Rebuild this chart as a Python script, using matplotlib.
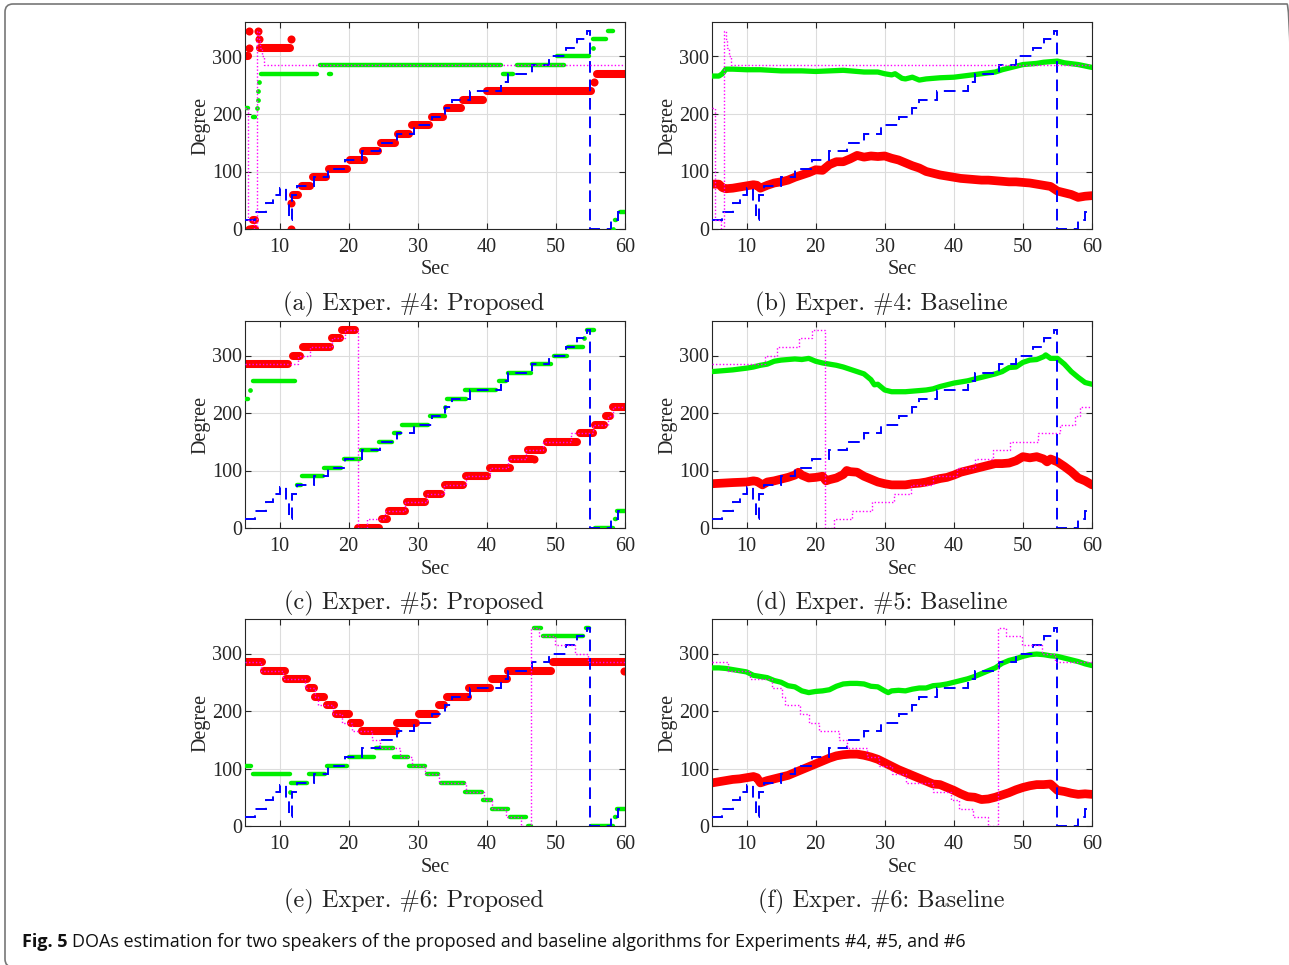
import matplotlib
import matplotlib.pyplot as plt
from matplotlib.patches import FancyBboxPatch
from matplotlib.transforms import IdentityTransform

plt.rcParams['font.family'] = ['Liberation Serif', 'DejaVu Serif']

# ground truth, speaker 1 (same in all experiments)
gt1_edges = [5, 6.5, 8, 9, 10, 11, 11.4, 11.8, 12.5, 15, 17, 19.5, 22, 24.5, 27, 29.5, 32, 34, 35,
             37.5, 42, 43, 46.5, 49, 51.5, 53, 54.5, 55, 58, 59, 60]
gt1_vals = [15, 30, 45, 60, 72, 45, 15, 60, 75, 90, 105, 120, 135, 150, 165, 180, 195, 210, 225,
            240, 255, 270, 285, 300, 315, 330, 345, 0, 15, 30]

# ground truth, speaker 2
gt2_edges_4 = [5, 5.5, 6.3, 6.7, 7.0, 7.2, 7.4, 7.7, 60]
gt2_vals_4 = [210, 15, 0, 345, 330, 315, 300, 285]
gt2_edges_5 = [5, 12.7, 14.4, 17.6, 19.5, 21.3, 22.6, 25.3, 28.2, 31.4, 33.8, 37, 40.4, 43, 45.7,
               48.1, 52.2, 55.4, 57.6, 58.3, 60]
gt2_vals_5 = [285, 300, 315, 330, 345, 0, 15, 30, 45, 60, 75, 90, 105, 120, 135, 150, 165, 180,
              195, 210]
gt2_edges_6 = [5, 7.3, 10.5, 13.7, 15.1, 15.6, 17.8, 19, 20.5, 23.4, 24.6, 27.5, 29.2, 31.1, 33.1,
               37, 39.6, 40.8, 42.8, 45, 46.4, 47.6, 49.8, 52.7, 54.6, 60]
gt2_vals_6 = [285, 270, 255, 240, 225, 210, 195, 180, 165, 150, 135, 120, 105, 90, 75, 60, 45, 30,
              15, 0, 345, 330, 315, 300, 285]

# proposed: segments (start, end, value) and single points
a_red_t0 = [5.2, 6.0, 6.1, 7.2, 12.0, 13.2, 14.8, 17.1, 20.2, 22.1, 24.7, 27.1, 29.1, 32.0, 34.2, 36.6, 40.0, 55.9]
a_red_t1 = [5.5, 6.5, 6.4, 11.5, 12.7, 14.4, 16.7, 19.8, 22.2, 24.3, 26.7, 28.8, 31.6, 33.7, 36.2, 39.4, 55.1, 60.0]
a_red_v = [300, 0, 15, 315, 60, 75, 90, 105, 120, 135, 150, 165, 180, 195, 210, 225, 240, 270]
a_red_px = [5.6, 5.6, 5.6, 6.9, 7.0, 11.6, 11.6, 11.6, 55.5]
a_red_py = [345, 315, 0, 345, 330, 330, 45, 0, 255]
a_grn_t0 = [5.1, 6.1, 7.3, 17.1, 15.9, 42.4, 44.4, 50.1, 55.4, 57.6, 58.6, 59.3]
a_grn_t1 = [5.5, 6.5, 15.4, 17.4, 42.1, 43.8, 51.2, 54.8, 57.3, 58.2, 58.7, 60.0]
a_grn_v = [210, 195, 270, 270, 285, 270, 285, 300, 330, 345, 15, 30]
a_grn_px = [6.8, 6.9, 6.95, 7.0, 55.3, 58.3]
a_grn_py = [210, 225, 240, 255, 315, 0]

c_red_t0 = [5.2, 11.9, 13.4, 17.6, 19.1, 21.4, 24.8, 25.9, 28.5, 31.3, 33.9, 37.0, 40.5, 43.6, 45.9,
            48.7, 53.5, 55.6, 57.3, 58.3]
c_red_t1 = [11.2, 12.9, 17.3, 18.7, 20.9, 24.4, 25.5, 28.1, 31.0, 33.4, 36.6, 40.0, 43.3, 46.5, 48.1,
            53.0, 55.3, 57.0, 57.8, 60.0]
c_red_v = [285, 300, 315, 330, 345, 0, 15, 30, 45, 60, 75, 90, 105, 120, 135, 150, 165, 180, 195, 210]
c_red_px = [46.8]
c_red_py = [120]
c_grn_t0 = [5.1, 6.2, 12.5, 13.3, 16.5, 19.3, 21.8, 24.4, 26.5, 27.7, 31.8, 34.2, 36.9, 41.7, 43.0,
            46.5, 49.7, 51.7, 54.5, 55.7, 58.5, 58.9]
c_grn_t1 = [5.4, 12.2, 13.1, 16.3, 18.9, 21.6, 24.1, 26.3, 27.4, 31.5, 33.9, 37.0, 41.3, 42.8, 46.4,
            49.3, 51.6, 53.9, 55.5, 58.2, 58.7, 60.0]
c_grn_v = [225, 255, 75, 90, 105, 120, 135, 150, 165, 180, 195, 225, 240, 255, 270, 285, 300, 315,
           345, 0, 15, 30]
c_grn_px = [5.7, 33.9, 54.0]
c_grn_py = [240, 210, 330]

e_red_t0 = [5.2, 7.7, 11.0, 14.3, 15.2, 16.9, 18.2, 20.4, 22.0, 27.0, 30.2, 33.1, 34.2, 37.4, 40.8,
            43.1, 49.6]
e_red_t1 = [7.4, 10.8, 14.0, 15.0, 16.5, 17.9, 20.0, 21.7, 26.8, 29.8, 32.6, 33.8, 37.3, 40.5, 42.9,
            49.3, 60.0]
e_red_v = [285, 270, 255, 240, 225, 210, 195, 180, 165, 180, 195, 210, 225, 240, 255, 270, 285]
e_red_px = [59.8]
e_red_py = [270]
e_grn_t0 = [5.1, 6.1, 11.7, 14.3, 16.9, 20.1, 24.0, 26.6, 28.7, 31.3, 33.3, 36.8, 39.5, 40.7, 43.3,
            45.9, 46.8, 48.2, 54.3, 55.1, 58.5, 58.9]
e_grn_t1 = [5.9, 11.45, 14.0, 16.6, 19.7, 23.6, 26.4, 28.6, 31.1, 33.0, 36.7, 39.3, 40.6, 43.0, 45.6,
            46.4, 47.9, 53.9, 54.8, 58.2, 58.7, 60.0]
e_grn_v = [105, 90, 75, 90, 105, 120, 135, 120, 105, 90, 75, 60, 45, 30, 15, 0, 345, 330, 345, 0, 15, 30]
e_grn_px = [11.5]
e_grn_py = [60]

# baseline: smooth estimates
b_grn_t = [5, 6, 6.5, 7, 8, 10, 12, 15, 18, 20, 22, 24, 25, 27, 29, 30, 31, 31.5, 32.5, 33, 34, 35,
           36, 37, 38, 40, 42, 44, 46, 47, 48, 49, 50, 51, 52, 53, 54, 55, 56, 58, 60]
b_grn_v = [266, 266, 270, 278, 278, 277, 277, 275, 275, 274, 275, 276, 275, 273, 273, 270, 268, 270,
           262, 261, 264, 259, 261, 262, 263, 264, 267, 270, 273, 277, 280, 283, 286, 287, 288, 290,
           291, 292, 289, 286, 281]
b_red_t = [5, 6, 6.5, 7, 8, 9, 10, 11, 11.5, 12, 13, 14, 15, 16, 17, 18, 19, 20, 21, 22, 23, 24, 25,
           26, 27, 28, 29, 30, 31, 32, 33, 34, 35, 36, 37, 38, 39, 40, 41, 42, 43, 44, 45, 46, 47,
           48, 49, 50, 51, 52, 53, 54, 55, 56, 57, 58, 59, 60]
b_red_v = [78, 78, 72, 70, 71, 73, 75, 77, 76, 71, 76, 80, 82, 85, 90, 94, 98, 103, 102, 112, 117,
           117, 122, 128, 125, 127, 126, 127, 123, 120, 115, 110, 106, 100, 97, 94, 92, 90, 88, 87,
           86, 85, 85, 84, 83, 82, 82, 81, 80, 78, 76, 74, 66, 63, 60, 55, 57, 58]

d_grn_t = [5, 8, 10, 11, 12, 13, 14, 15, 16, 17, 18, 19, 20, 21, 22, 23, 24, 25, 26, 27, 28, 28.5,
           29, 30, 31, 32, 33, 34, 35, 36, 37, 38, 40, 42, 44, 46, 47, 48, 49, 50, 51, 52, 53, 53.3,
           54, 55, 56, 57, 58, 59, 60]
d_grn_v = [272, 275, 278, 280, 283, 285, 290, 292, 293, 294, 293, 295, 290, 287, 285, 283, 280, 276,
           272, 268, 258, 249, 250, 240, 237, 237, 237, 238, 239, 240, 242, 246, 252, 256, 262, 268,
           272, 279, 280, 288, 292, 293, 298, 301, 295, 295, 285, 272, 262, 253, 250]
d_red_t = [5, 8, 10, 11, 11.5, 12.3, 13, 14, 15, 16, 17, 17.5, 18, 19, 20, 21, 21.5, 22, 23, 24,
           24.5, 25, 26, 27, 28, 29, 30, 31, 32, 33, 34, 35, 36, 37, 38, 39, 40, 41, 42, 43, 44, 45,
           46, 47, 48, 49, 50, 51, 52, 53, 53.5, 54, 55, 56, 57, 58, 59, 60]
d_red_v = [77, 79, 80, 82, 81, 75, 80, 82, 85, 88, 92, 97, 92, 87, 88, 90, 82, 84, 87, 93, 100, 98,
           97, 90, 85, 80, 77, 75, 75, 75, 77, 78, 80, 83, 86, 88, 92, 97, 100, 103, 106, 109, 112,
           112, 113, 117, 124, 122, 124, 120, 115, 120, 115, 107, 98, 87, 82, 75]

f_grn_t = [5, 6, 7, 8, 9, 10, 11, 12, 13, 14, 15, 16, 17, 18, 19, 20, 21, 22, 23, 24, 25, 26, 27,
           28, 29, 30, 30.5, 31, 32, 33, 34, 35, 36, 37, 38, 39, 40, 41, 42, 43, 44, 45, 46, 47, 48,
           49, 50, 51, 52, 53, 54, 55, 56, 57, 58, 59, 60]
f_grn_v = [275, 275, 274, 272, 270, 268, 262, 260, 258, 253, 250, 244, 242, 235, 232, 234, 235, 237,
           243, 247, 248, 248, 247, 243, 242, 235, 232, 235, 236, 235, 238, 240, 240, 244, 245, 247,
           250, 253, 256, 260, 265, 270, 275, 283, 288, 291, 295, 298, 299, 298, 296, 295, 292, 289,
           286, 282, 279]
f_red_t = [5, 6, 7, 8, 9, 10, 11, 11.5, 12, 13, 14, 15, 16, 17, 18, 19, 20, 21, 22, 23, 24, 25, 26,
           27, 28, 29, 30, 31, 32, 33, 34, 35, 36, 37, 38, 39, 40, 41, 42, 43, 44, 45, 46, 47, 48,
           49, 50, 51, 52, 53, 54, 55, 56, 57, 58, 59, 60]
f_red_v = [75, 77, 79, 81, 82, 84, 86, 84, 75, 79, 82, 85, 88, 93, 98, 103, 108, 113, 118, 122, 124,
           125, 125, 123, 120, 116, 110, 104, 98, 93, 88, 83, 78, 73, 72, 67, 62, 56, 51, 50, 46, 47,
           50, 54, 58, 63, 67, 70, 72, 72, 73, 62, 60, 57, 55, 56, 55]

captions = ['(a) Exper. #4: Proposed', '(b) Exper. #4: Baseline',
            '(c) Exper. #5: Proposed', '(d) Exper. #5: Baseline',
            '(e) Exper. #6: Proposed', '(f) Exper. #6: Baseline']

W, H = 1289, 965
fig = plt.figure(figsize=(W / 100, H / 100), dpi=100)

axcol = '#262626'


def make_axes(left, top):
    ax = fig.add_axes([left / W, 1 - (top + 207) / H, 380 / W, 207 / H])
    ax.set_xlim(5, 60)
    ax.set_ylim(0, 360)
    ax.set_xticks([10, 20, 30, 40, 50, 60])
    ax.set_yticks([0, 100, 200, 300])
    ax.grid(True, color='#dcdcdc', lw=0.8)
    ax.set_axisbelow(True)
    ax.tick_params(direction='in', top=True, right=True, length=4, width=0.8,
                   labelsize=14.5, colors=axcol)
    ax.tick_params(axis='y', pad=2)
    ax.tick_params(axis='x', pad=6.5)
    for s in ax.spines.values():
        s.set_color(axcol)
        s.set_linewidth(0.8)
    ax.set_xlabel('Sec', fontsize=14.5, labelpad=2.5, color=axcol)
    ax.set_ylabel('Degree', fontsize=14.5, labelpad=1, color=axcol)
    return ax


def draw_gt(ax, edges2, vals2):
    ax.stairs(gt1_vals, gt1_edges, baseline=None, color='#0000ff', lw=1.4,
              linestyle=(0, (6, 3.5)), zorder=4)
    ax.stairs(vals2, edges2, baseline=None, color='#ff00ff', lw=1.0,
              linestyle=(0, (1, 1.5)), zorder=5)


def draw_proposed(ax, rt0, rt1, rv, rpx, rpy, gt0, gt1, gv, gpx, gpy):
    for a, b, y in zip(rt0, rt1, rv):
        ax.plot([a, b], [y, y], color='#ff0000', lw=5.8, solid_capstyle='round', zorder=2)
    ax.plot(rpx, rpy, 'o', color='#ff0000', ms=5.8, mec='none', zorder=2)
    for a, b, y in zip(gt0, gt1, gv):
        ax.plot([a, b], [y, y], color='#00ee00', lw=3.2, solid_capstyle='round', zorder=3)
    ax.plot(gpx, gpy, 'o', color='#00ee00', ms=3.4, mec='none', zorder=3)


def draw_baseline(ax, rt, rv, gt, gv):
    ax.plot(rt, rv, color='#ff0000', lw=6.3, solid_capstyle='round', zorder=2)
    ax.plot(gt, gv, color='#00ee00', lw=3.8, solid_capstyle='round', zorder=3)


tops = [22, 321, 619]
lefts = [245, 712]

ax = make_axes(lefts[0], tops[0])
draw_proposed(ax, a_red_t0, a_red_t1, a_red_v, a_red_px, a_red_py,
              a_grn_t0, a_grn_t1, a_grn_v, a_grn_px, a_grn_py)
draw_gt(ax, gt2_edges_4, gt2_vals_4)

ax = make_axes(lefts[1], tops[0])
draw_baseline(ax, b_red_t, b_red_v, b_grn_t, b_grn_v)
draw_gt(ax, gt2_edges_4, gt2_vals_4)

ax = make_axes(lefts[0], tops[1])
draw_proposed(ax, c_red_t0, c_red_t1, c_red_v, c_red_px, c_red_py,
              c_grn_t0, c_grn_t1, c_grn_v, c_grn_px, c_grn_py)
draw_gt(ax, gt2_edges_5, gt2_vals_5)

ax = make_axes(lefts[1], tops[1])
draw_baseline(ax, d_red_t, d_red_v, d_grn_t, d_grn_v)
draw_gt(ax, gt2_edges_5, gt2_vals_5)

ax = make_axes(lefts[0], tops[2])
draw_proposed(ax, e_red_t0, e_red_t1, e_red_v, e_red_px, e_red_py,
              e_grn_t0, e_grn_t1, e_grn_v, e_grn_px, e_grn_py)
draw_gt(ax, gt2_edges_6, gt2_vals_6)

ax = make_axes(lefts[1], tops[2])
draw_baseline(ax, f_red_t, f_red_v, f_grn_t, f_grn_v)
draw_gt(ax, gt2_edges_6, gt2_vals_6)

# sub captions
cap_x = [414, 881]
cap_y = [304, 603, 901]
for i, txt in enumerate(captions):
    fig.text(cap_x[i % 2] / W, 1 - cap_y[i // 2] / H, txt, family='cmr10', fontsize=17.5,
             ha='center', va='center', color='#222222')

# figure caption
t1 = fig.text(22 / W, 1 - 947 / H, 'Fig. 5', family='Open Sans', weight='bold', fontsize=13,
              ha='left', va='baseline', color='#111111')
r = fig.canvas.get_renderer()
bb = t1.get_window_extent(r)
fig.text((bb.x1 + 5) / W, 1 - 947 / H,
         'DOAs estimation for two speakers of the proposed and baseline algorithms for Experiments #4, #5, and #6',
         family='Open Sans', fontsize=13, ha='left', va='baseline', color='#111111')

# frame around the figure
frame = FancyBboxPatch((5, -2), 1290, 963, boxstyle='round,pad=0,rounding_size=8',
                       transform=IdentityTransform(), fill=False, ec='#777777', lw=1.2)
fig.patches.append(frame)

fig.savefig('out.png', dpi=100)
